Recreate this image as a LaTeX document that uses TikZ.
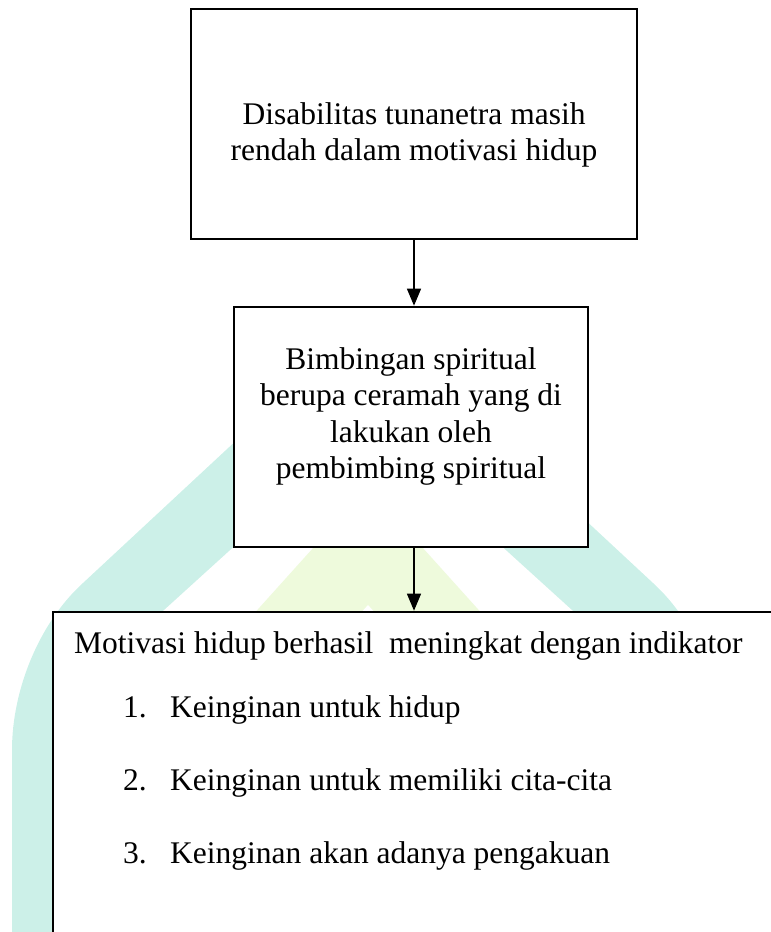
\documentclass[tikz,border=0pt]{standalone}
\usepackage{fontspec}
\setmainfont{Liberation Serif}
\usetikzlibrary{arrows.meta,calc}
\definecolor{wmteal}{RGB}{204,240,232}
\definecolor{wmlime}{RGB}{238,250,220}
\begin{document}
\begin{tikzpicture}[x=1pt,y=-1pt,
  boxstyle/.style={draw=black,line width=2.6pt,fill=white,rectangle,inner sep=0pt},
  txt/.style={font=\fontsize{31.5}{36.5}\selectfont,inner sep=0pt,anchor=base},
  ltxt/.style={txt,anchor=base west},
  arr/.style={line width=1.2pt,-{Triangle[length=17pt,width=14pt]}}]
\useasboundingbox (0,0) rectangle (771,932);
\clip (0,0) rectangle (771,932);
% watermark
\fill[wmteal] (12,940) -- (12,750) .. controls (12,690) and (39,623) .. (83,583)
  -- (368,318) -- (653,583) .. controls (697,623) and (724,690) .. (724,750)
  -- (724,940) -- cycle;
\fill[white] (86,940) -- (86,780) .. controls (86,720) and (120,650) .. (162,612)
  -- (368,425) -- (574,612) .. controls (616,650) and (650,720) .. (650,780)
  -- (650,940) -- cycle;
\fill[wmlime] (368,487) -- (548,687) -- (188,687) -- cycle;
\fill[white] (368,605) -- (458,705) -- (278,705) -- cycle;
% boxes
\node[boxstyle,minimum width=446pt,minimum height=230pt] (top) at (414,124) {};
\node[boxstyle,minimum width=354pt,minimum height=240pt] (mid) at (411,427) {};
\node[boxstyle,minimum width=747pt,minimum height=348pt] (bot) at (426.5,786) {};
% texts
\node[txt] (t1) at (414,124) {Disabilitas tunanetra masih};
\node[txt] (t2) at (414,160) {rendah dalam motivasi hidup};
\node[txt] (m1) at (411,369) {Bimbingan spiritual};
\node[txt] (m2) at (411,405) {berupa ceramah yang di};
\node[txt] (m3) at (411,442) {lakukan oleh};
\node[txt] (m4) at (411,478) {pembimbing spiritual};
\node[ltxt] (b0) at (74,653) {Motivasi hidup berhasil\ \ meningkat dengan indikator};
\node[ltxt] (b1) at (123,717) {\makebox[47pt][l]{1.}Keinginan untuk hidup};
\node[ltxt] (b2) at (123,790) {\makebox[47pt][l]{2.}Keinginan untuk memiliki cita-cita};
\node[ltxt] (b3) at (123,863) {\makebox[47pt][l]{3.}Keinginan akan adanya pengakuan};
% arrows
\draw[arr] (top.south) -- (top.south |- mid.north);
\draw[arr] (top.south |- mid.south) -- (top.south |- bot.north);
\end{tikzpicture}
\end{document}
